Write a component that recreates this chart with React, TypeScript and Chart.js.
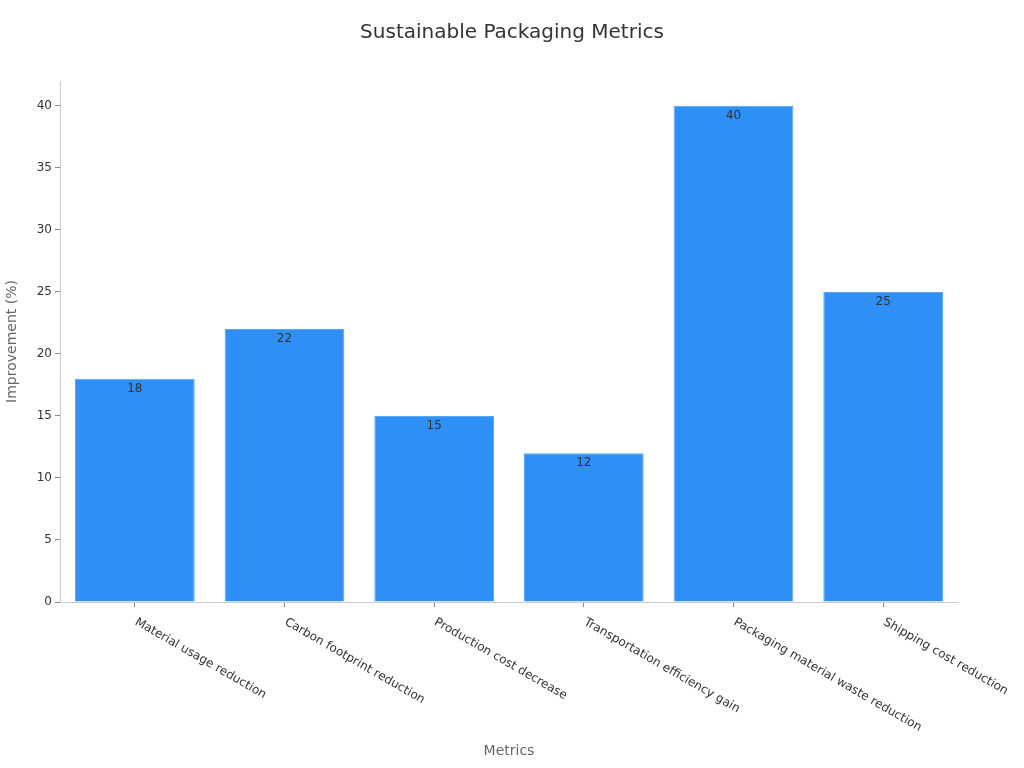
import React, { useEffect, useRef } from 'react';
import { Chart, registerables } from 'chart.js';

Chart.register(...registerables);

const chartTitle = 'Sustainable Packaging Metrics';
const categories = [
  'Material usage reduction',
  'Carbon footprint reduction',
  'Production cost decrease',
  'Transportation efficiency gain',
  'Packaging material waste reduction',
  'Shipping cost reduction',
];
const improvement = [18, 22, 15, 12, 40, 25];

const FONT = "'DejaVu Sans', sans-serif";

// title centred on the whole canvas, not on the plot
const pageTitle = {
  id: 'pageTitle',
  afterDraw(chart: any) {
    const ctx = chart.ctx;
    ctx.save();
    ctx.font = `20px ${FONT}`;
    ctx.fillStyle = '#333';
    ctx.textAlign = 'center';
    ctx.textBaseline = 'middle';
    ctx.fillText(chartTitle, chart.width / 2, 33);
    ctx.restore();
  },
};

// draws the value at the top inside each bar
const valueLabels = {
  id: 'valueLabels',
  afterDatasetsDraw(chart: any) {
    const ctx = chart.ctx;
    const meta = chart.getDatasetMeta(0);
    ctx.save();
    ctx.font = `12px ${FONT}`;
    ctx.fillStyle = '#333';
    ctx.textAlign = 'center';
    ctx.textBaseline = 'middle';
    meta.data.forEach((bar: any, i: number) => {
      ctx.fillText(String(chart.data.datasets[0].data[i]), bar.x, bar.y + 10);
    });
    ctx.restore();
  },
};

// x labels slanting down to the right, starting at the tick
const slantedLabels = {
  id: 'slantedLabels',
  afterDraw(chart: any) {
    const ctx = chart.ctx;
    const x = chart.scales.x;
    ctx.save();
    ctx.font = `12px ${FONT}`;
    ctx.fillStyle = '#333';
    ctx.textAlign = 'left';
    ctx.textBaseline = 'top';
    chart.data.labels.forEach((label: string, i: number) => {
      const px = x.getPixelForTick(i);
      ctx.save();
      ctx.translate(px + 4, x.top + 14);
      ctx.rotate(Math.PI / 6);
      ctx.fillText(label, 0, 0);
      ctx.restore();
    });
    ctx.restore();
  },
};

const App: React.FC = () => {
  const canvasRef = useRef<HTMLCanvasElement>(null);
  const chartRef = useRef<Chart | null>(null);

  useEffect(() => {
    if (!canvasRef.current) return;
    if (chartRef.current) chartRef.current.destroy();

    chartRef.current = new Chart(canvasRef.current, {
      type: 'bar',
      data: {
        labels: categories,
        datasets: [
          {
            label: 'Improvement (%)',
            data: improvement,
            backgroundColor: '#2e90f7',
            borderColor: '#5aa8f5',
            borderWidth: 1,
            barPercentage: 0.8,
            categoryPercentage: 1.0,
          },
        ],
      },
      options: {
        animation: false,
        responsive: true,
        maintainAspectRatio: false,
        layout: { padding: { left: 0, right: 66, top: 81, bottom: 0 } },
        plugins: {
          legend: { display: false },
          tooltip: { enabled: false },
          title: { display: false },
        },
        scales: {
          x: {
            afterFit: (s: any) => { s.height = 166; },
            grid: { offset: false, drawOnChartArea: false, drawTicks: true, tickLength: 5, color: '#888' },
            border: { color: '#ccc' },
            ticks: { display: false },
            title: {
              display: true,
              text: 'Metrics',
              color: '#666',
              font: { family: FONT, size: 14 },
              padding: { top: 8, bottom: 8 },
            },
          },
          y: {
            min: 0,
            max: 42,
            afterFit: (s: any) => { s.width = 60; },
            afterBuildTicks: (s: any) => {
              s.ticks = s.ticks.filter((t: any) => t.value % 5 === 0);
            },
            grid: { drawOnChartArea: false, drawTicks: true, tickLength: 5, color: '#888' },
            border: { color: '#ccc' },
            ticks: {
              stepSize: 5,
              color: '#333',
              padding: 3,
              font: { family: FONT, size: 12 },
            },
            title: {
              display: true,
              text: 'Improvement (%)',
              color: '#666',
              font: { family: FONT, size: 14 },
              padding: { top: 4, bottom: 4 },
            },
          },
        },
      },
      plugins: [pageTitle, valueLabels, slantedLabels],
    });

    return () => {
      if (chartRef.current) {
        chartRef.current.destroy();
        chartRef.current = null;
      }
    };
  }, []);

  return (
    <div style={{ position: 'fixed', left: 0, top: 0, width: 1024, height: 768, background: '#fff' }}>
      <canvas ref={canvasRef} />
    </div>
  );
};

export default App;
